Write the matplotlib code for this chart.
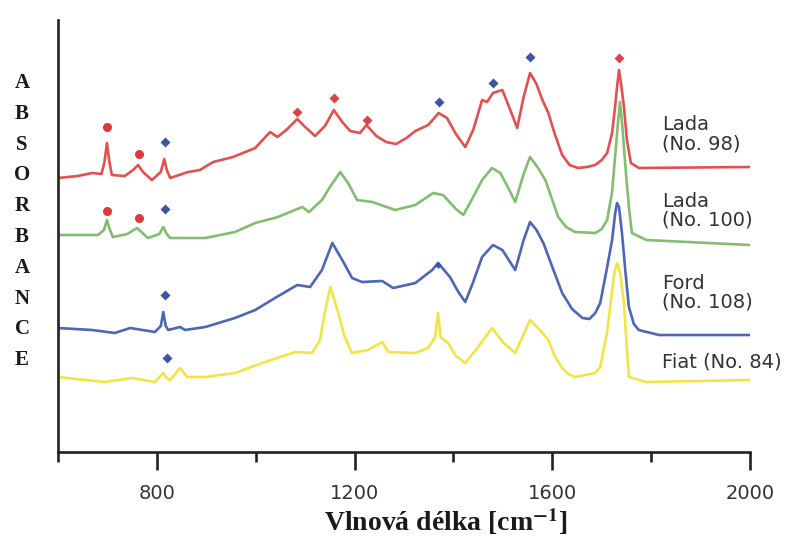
import matplotlib
matplotlib.use("Agg")
import matplotlib.pyplot as plt

plt.rcParams["mathtext.fontset"] = "stix"

# ---- data (wavenumber [cm^-1], absorbance in arbitrary offset units) ----
red_x = [600, 640, 669, 688, 694, 699, 704, 709, 735, 752, 762, 772, 790, 808, 815, 820, 827,
         863, 887, 914, 954, 999, 1029, 1044, 1064, 1084, 1100, 1120, 1140, 1158, 1175, 1191,
         1211, 1224, 1244, 1264, 1284, 1305, 1323, 1349, 1370, 1387, 1405, 1424, 1440, 1458,
         1468, 1480, 1499, 1515, 1529, 1542, 1555, 1568, 1580, 1592, 1605, 1620, 1635, 1652,
         1670, 1687, 1700, 1711, 1721, 1727, 1731, 1735, 1739, 1745, 1751, 1759, 1775, 2000]
red_y = [274, 276, 279, 278, 290, 309, 290, 277, 276, 282, 287, 280, 272, 280, 293, 282, 274,
         280, 282, 290, 295, 304, 320, 315, 323, 333, 325, 316, 326, 342, 330, 321,
         319, 327, 316, 310, 308, 314, 321, 327, 339, 334, 318, 305, 322, 352,
         350, 359, 362, 342, 324, 355, 379, 368, 352, 339, 318, 297, 287, 284,
         285, 287, 292, 299, 319, 345, 365, 382, 369, 345, 312, 289, 284, 285]

green_x = [600, 681, 693, 699, 705, 711, 740, 760, 782, 805, 813, 820, 827, 898, 958, 999, 1045,
           1094, 1108, 1134, 1150, 1171, 1188, 1205, 1236, 1282, 1323, 1359, 1379, 1405, 1420,
           1440, 1458, 1478, 1495, 1510, 1525, 1542, 1555, 1570, 1586, 1600, 1612, 1628, 1646,
           1687, 1700, 1711, 1721, 1727, 1733, 1737, 1741, 1749, 1755, 1761, 1790, 2000]
green_y = [217, 217, 222, 232, 222, 215, 218, 224, 214, 218, 225, 218, 214, 214, 220, 229, 235,
           245, 240, 252, 265, 280, 268, 252, 250, 242, 247, 259, 257, 243, 237,
           255, 272, 284, 279, 265, 250, 278, 295, 285, 272, 252, 235, 225, 220,
           219, 223, 232, 260, 295, 330, 350, 330, 279, 245, 219, 212, 207]

blue_x = [600, 669, 715, 746, 796, 808, 813, 818, 823, 847, 857, 898, 958, 999, 1039, 1084, 1110,
          1134, 1155, 1175, 1195, 1215, 1256, 1278, 1323, 1357, 1369, 1393, 1410, 1424, 1440,
          1458, 1480, 1499, 1512, 1525, 1542, 1555, 1568, 1582, 1600, 1620, 1640, 1661, 1675,
          1687, 1697, 1711, 1721, 1727, 1731, 1735, 1741, 1748, 1755, 1765, 1775, 1816, 2000]
blue_y = [124, 122, 119, 124, 120, 126, 140, 126, 122, 125, 122, 125, 134, 142, 154, 167, 165,
          182, 209, 192, 174, 170, 171, 164, 169, 182, 189, 175, 160, 150, 170,
          195, 207, 202, 192, 182, 212, 230, 222, 209, 185, 159, 143, 134, 133,
          139, 149, 185, 212, 238, 249, 245, 219, 180, 145, 128, 122, 117, 117]

yellow_x = [600, 695, 750, 796, 813, 820, 827, 847, 861, 898, 958, 1013, 1080, 1114, 1130, 1140,
            1151, 1167, 1180, 1195, 1227, 1256, 1268, 1323, 1349, 1363, 1369, 1374, 1389, 1405,
            1424, 1450, 1478, 1500, 1525, 1555, 1575, 1592, 1605, 1620, 1632, 1646, 1687, 1697,
            1711, 1717, 1725, 1731, 1737, 1745, 1750, 1755, 1790, 2000]
yellow_y = [75, 70, 74, 70, 79, 74, 72, 84, 75, 75, 79, 89, 100, 99, 112, 140,
            165, 139, 115, 99, 102, 110, 100, 99, 104, 115, 139, 115, 109, 96,
            89, 105, 124, 110, 99, 132, 122, 112, 96, 84, 78, 75, 79, 85,
            120, 145, 178, 189, 180, 149, 110, 75, 70, 72]

circle_x = [699, 764, 699, 764]
circle_y = [325, 298, 241, 234]
red_diamond_x = [1084, 1159, 1225, 1735]
red_diamond_y = [340, 354, 332, 394]
blue_diamond_x = [817, 817, 817, 821, 1371, 1480, 1555]
blue_diamond_y = [310, 243, 157, 94, 350, 369, 395]
small_diamond_x = [1369]
small_diamond_y = [187]

series_labels = ["Lada\n(No. 98)", "Lada\n(No. 100)", "Ford\n(No. 108)", "Fiat (No. 84)"]
label_y = [318, 241, 159, 90]
xticks_major = [800, 1200, 1600, 2000]
xticks_minor = [600, 1000, 1400, 1800]
ylabel_text = "ABSORBANCE"
xlabel_text = "Vlnová délka [cm$^{\\mathbf{-1}}$]"

# ---- figure ----
W, H = 791, 540
fig = plt.figure(figsize=(W / 100, H / 100), dpi=100)
ax = fig.add_axes([58 / W, (H - 452) / H, (750 - 58) / W, 432 / H])

colors = ["#e2514f", "#82bd72", "#4d66b8", "#f3e445"]
for xs, ys, c in [(red_x, red_y, colors[0]), (green_x, green_y, colors[1]),
                  (blue_x, blue_y, colors[2]), (yellow_x, yellow_y, colors[3])]:
    ax.plot(xs, ys, color=c, lw=1.9, solid_joinstyle="round", zorder=2)

ax.plot(circle_x, circle_y, "o", color="#dd3a3c", ms=6.5, mec="none", zorder=3)
ax.plot(red_diamond_x, red_diamond_y, "D", color="#d9434a", ms=5.5, mec="none", zorder=3)
ax.plot(blue_diamond_x, blue_diamond_y, "D", color="#3f54a3", ms=5.5, mec="none", zorder=3)
ax.plot(small_diamond_x, small_diamond_y, "D", color="#3f54a3", ms=3.5, mec="none", zorder=3)

for txt, yy in zip(series_labels, label_y):
    ax.text(1822, yy, txt, fontsize=14, family="DejaVu Sans", color="#333333",
            va="center", ha="left", linespacing=1.0, clip_on=False)

ax.set_xlim(600, 2000)
ax.set_ylim(0, 432)
ax.spines["top"].set_visible(False)
ax.spines["right"].set_visible(False)
for s in ["left", "bottom"]:
    ax.spines[s].set_linewidth(1.9)
    ax.spines[s].set_color("#222222")
ax.set_yticks([])
ax.set_xticks(xticks_major)
ax.set_xticks(xticks_minor, minor=True)
ax.tick_params(axis="x", which="major", length=13, width=1.9, color="#222222",
               labelsize=14, pad=10, labelcolor="#333333")
ax.tick_params(axis="x", which="minor", length=7, width=1.9, color="#222222")
for lab in ax.get_xticklabels():
    lab.set_family("DejaVu Sans")

# vertical stacked y label
for i, ch in enumerate(ylabel_text):
    fig.text(22 / W, 1 - (83 + i * 30.8) / H, ch, fontsize=15, family="Liberation Serif",
             weight="bold", ha="center", va="center", color="#1a1a1a")

fig.text(446 / W, 1 - 522 / H, xlabel_text, fontsize=20, family="Liberation Serif",
         weight="bold", ha="center", va="center", color="#1a1a1a")

fig.savefig("out.png", dpi=100)
